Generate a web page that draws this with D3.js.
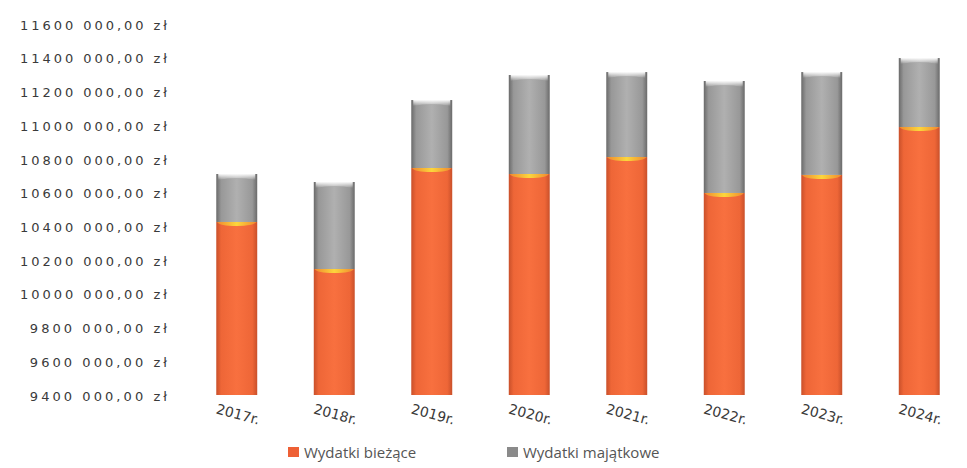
<!DOCTYPE html>
<html>
<head>
<meta charset="utf-8">
<script src="https://cdn.jsdelivr.net/npm/d3@7"></script>
<style>
  body { margin: 0; background: #fff; }
  svg { display: block; }
  .axis text { fill: #3a3a3a; }
</style>
</head>
<body>
<div id="chart"></div>
<script>
// data
var years = ["2017r.", "2018r.", "2019r.", "2020r.", "2021r.", "2022r.", "2023r.", "2024r."];
var wydatkiBiezace = [10426000, 10147000, 10746000, 10710500, 10811000, 10598000, 10705000, 10989000];
var wydatkiMajatkowe = [284500, 516000, 403000, 587000, 504000, 664000, 610000, 409000];
var yTicks = [9400000, 9600000, 9800000, 10000000, 10200000, 10400000, 10600000,
              10800000, 11000000, 11200000, 11400000, 11600000];
var legendNames = ["Wydatki bieżące", "Wydatki majątkowe"];

var width = 967, height = 468;

var svg = d3.select("#chart").append("svg")
    .attr("width", width)
    .attr("height", height);

var defs = svg.append("defs");

// cylinder-ish shading
function sideGradient(id, edge, mid, center) {
    var g = defs.append("linearGradient").attr("id", id)
        .attr("x1", "0%").attr("x2", "100%").attr("y1", "0%").attr("y2", "0%");
    g.append("stop").attr("offset", "0%").attr("stop-color", edge);
    g.append("stop").attr("offset", "12%").attr("stop-color", mid);
    g.append("stop").attr("offset", "50%").attr("stop-color", center);
    g.append("stop").attr("offset", "88%").attr("stop-color", mid);
    g.append("stop").attr("offset", "100%").attr("stop-color", edge);
}
sideGradient("gradOrange", "#c9502a", "#ee6637", "#f8703f");
sideGradient("gradGray", "#6a6a6a", "#989898", "#b0b0b0");

var yellow = defs.append("linearGradient").attr("id", "gradYellow")
    .attr("x1", "0%").attr("x2", "100%");
yellow.append("stop").attr("offset", "0%").attr("stop-color", "#f08a30");
yellow.append("stop").attr("offset", "50%").attr("stop-color", "#fcd63c");
yellow.append("stop").attr("offset", "100%").attr("stop-color", "#f08a30");

var cap = defs.append("linearGradient").attr("id", "gradCap")
    .attr("x1", "0%").attr("x2", "0%").attr("y1", "0%").attr("y2", "100%");
cap.append("stop").attr("offset", "0%").attr("stop-color", "#ffffff").attr("stop-opacity", 0.95);
cap.append("stop").attr("offset", "100%").attr("stop-color", "#ffffff").attr("stop-opacity", 0);

// scales
var x = d3.scaleBand()
    .domain(years)
    .range([188, 968])
    .paddingInner(0.58)
    .paddingOuter(0.29);

var y = d3.scaleLinear()
    .domain([9400000, 11600000])
    .range([395, 24])
    .clamp(true);

// stack the two series
var rows = years.map(function(d, i) {
    return { year: d, biezace: wydatkiBiezace[i], majatkowe: wydatkiMajatkowe[i] };
});
var stacked = d3.stack().keys(["biezace", "majatkowe"])(rows);

// y axis (labels only)
var yAxis = d3.axisLeft(y)
    .tickValues(yTicks)
    .tickSize(0)
    .tickPadding(0)
    .tickFormat(function(d) { return Math.floor(d / 1000) + " 000,00 zł"; });

var yG = svg.append("g")
    .attr("class", "axis y-axis")
    .attr("transform", "translate(167,1)")
    .call(yAxis);
yG.select(".domain").remove();
yG.selectAll("text")
    .style("font-family", "'DejaVu Sans', sans-serif")
    .style("font-size", "13px")
    .attr("textLength", function() { return this.textContent.length * 9.8; })
    .attr("lengthAdjust", "spacing");

// bars
var fills = ["url(#gradOrange)", "url(#gradGray)"];
var layers = svg.selectAll(".layer")
    .data(stacked)
    .enter().append("g")
    .attr("class", "layer")
    .attr("fill", function(d, i) { return fills[i]; });

layers.selectAll("rect")
    .data(function(d) { return d; })
    .enter().append("rect")
    .attr("x", function(d) { return x(d.data.year); })
    .attr("y", function(d) { return y(d[1]); })
    .attr("width", x.bandwidth())
    .attr("height", function(d) { return y(d[0]) - y(d[1]); });

// yellow surface at top of orange
var orangeLayer = stacked[0], grayLayer = stacked[1];
svg.append("g").selectAll("path")
    .data(orangeLayer)
    .enter().append("path")
    .attr("fill", "url(#gradYellow)")
    .attr("d", function(d) {
        var x0 = x(d.data.year) + 1, x1 = x0 + x.bandwidth() - 2, yy = y(d[1]);
        return "M" + x0 + "," + yy + " L" + x1 + "," + yy +
            " Q" + (x1 - 2) + "," + (yy + 4) + " " + ((x0 + x1) / 2) + "," + (yy + 4) +
            " Q" + (x0 + 2) + "," + (yy + 4) + " " + x0 + "," + yy + "Z";
    });

// light cap on gray tops
svg.append("g").selectAll("path")
    .data(grayLayer)
    .enter().append("path")
    .attr("fill", "url(#gradCap)")
    .attr("d", function(d) {
        var x0 = x(d.data.year) + 2, x1 = x0 + x.bandwidth() - 4, yy = y(d[1]);
        return "M" + x0 + "," + yy + " L" + x1 + "," + yy +
            " L" + x1 + "," + (yy + 6) +
            " Q" + ((x0 + x1) / 2) + "," + (yy + 2) + " " + x0 + "," + (yy + 6) + "Z";
    });

// x labels, tilted
svg.append("g").attr("class", "axis x-axis")
    .selectAll("text")
    .data(years)
    .enter().append("text")
    .attr("transform", function(d) {
        return "translate(" + (x(d) + x.bandwidth() / 2) + ",419) rotate(15)";
    })
    .attr("text-anchor", "middle")
    .style("font-family", "'DejaVu Sans', sans-serif")
    .style("font-size", "14px")
    .text(function(d) { return d; });

// legend
var legendColors = ["#ee6035", "#8a8a8a"];
var legend = svg.append("g").selectAll("g")
    .data(legendNames)
    .enter().append("g")
    .attr("transform", function(d, i) { return "translate(" + [288, 507][i] + ",447)"; });

legend.append("rect")
    .attr("width", 11).attr("height", 10)
    .attr("fill", function(d, i) { return legendColors[i]; });

legend.append("text")
    .attr("x", 16).attr("y", 11)
    .style("font-family", "'Open Sans', sans-serif")
    .style("font-size", "15px")
    .attr("fill", "#555")
    .text(function(d) { return d; });
</script>
</body>
</html>
